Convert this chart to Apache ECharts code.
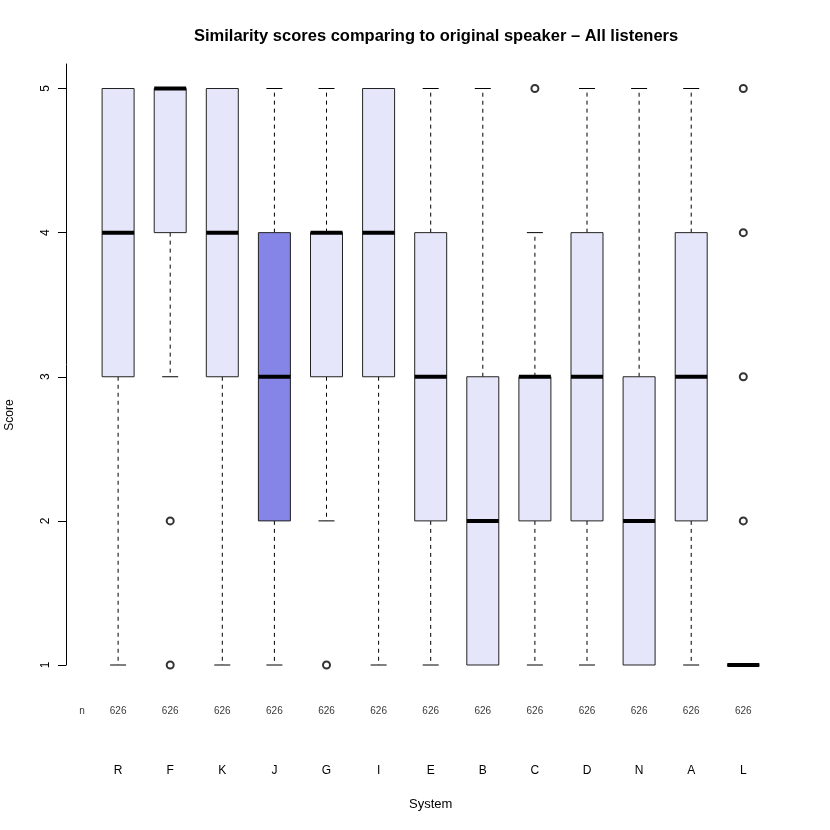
<!DOCTYPE html>
<html>
<head>
<meta charset="utf-8">
<script src="https://cdn.jsdelivr.net/npm/echarts@6/dist/echarts.min.js"></script>
<style>html,body{margin:0;padding:0;background:#fff}#c{width:830px;height:830px}</style>
</head>
<body>
<div id="c"></div>
<script>
const categories = ['R','F','K','J','G','I','E','B','C','D','N','A','L'];
const lowerWhisker = [1,3,1,1,2,1,1,1,1,1,1,1,1];
const q1 = [3,4,3,2,3,3,2,1,2,2,1,2,1];
const medians = [4,5,4,3,4,4,3,2,3,3,2,3,1];
const q3 = [5,5,5,4,4,5,4,3,3,4,3,4,1];
const upperWhisker = [5,5,5,5,5,5,5,5,4,5,5,5,1];
const outliers = [[],[2,1],[],[],[1],[],[],[],[5],[],[],[],[2,3,4,5]];
const counts = [626,626,626,626,626,626,626,626,626,626,626,626,626];
const boxFills = ['#e6e6fa','#e6e6fa','#e6e6fa','#8585e8','#e6e6fa','#e6e6fa','#e6e6fa','#e6e6fa','#e6e6fa','#e6e6fa','#e6e6fa','#e6e6fa','#e6e6fa'];
const yTicks = [1,2,3,4,5];

const boxData = categories.map((c,i)=>[i+1, lowerWhisker[i], q1[i], medians[i], q3[i], upperWhisker[i]]);
const outData = [];
outliers.forEach((arr,i)=>arr.forEach(v=>outData.push([i+1,v])));
const nData = [[0.31, 0.68, 'n']].concat(counts.map((n,i)=>[i+1, 0.68, String(n)]));

const BOXW = 0.614;
const chart = echarts.init(document.getElementById('c'));
chart.setOption({
  animation:false,
  backgroundColor:'#fff',
  title:{text:'Similarity scores comparing to original speaker \u2013 All listeners', left:189, top:23,
    textStyle:{fontFamily:'Liberation Sans, Arial', fontSize:16.5, fontWeight:'bold', color:'#000'}},
  graphic:[
    {type:'text', rotation:Math.PI/2, x:10, y:415, style:{text:'Score', font:'12px Liberation Sans, Arial', fill:'#000', textAlign:'center', textVerticalAlign:'middle'}},
  ],
  grid:{left:66, right:34.6, top:64, bottom:165},
  xAxis:[{type:'value', min:0, max:14, interval:1,
    axisLine:{show:false}, axisTick:{show:false}, splitLine:{show:false},
    axisLabel:{margin:100, fontFamily:'Liberation Sans, Arial', fontSize:12, color:'#000',
      formatter:v=>categories[v-1]||''},
    name:'System', nameLocation:'middle', nameGap:133,
    nameTextStyle:{fontFamily:'Liberation Sans, Arial', fontSize:13, color:'#000'}}],
  yAxis:{type:'value', min:1, max:5.17, interval:1, offset:1,
    axisLine:{show:true, lineStyle:{color:'#000', width:1}},
    axisTick:{show:true, length:8, lineStyle:{color:'#000'}},
    splitLine:{show:false},
    axisLabel:{rotate:90, margin:13, showMaxLabel:false, fontFamily:'Liberation Sans, Arial', fontSize:12, color:'#000',
      formatter:v=>yTicks.indexOf(v)>=0?String(v):''}},
  series:[
    {type:'custom', data:boxData, clip:false,
      renderItem:(params, api)=>{
        const x = api.value(0);
        const lo = api.coord([x, api.value(1)]);
        const b1 = api.coord([x, api.value(2)]);
        const md = api.coord([x, api.value(3)]);
        const b3 = api.coord([x, api.value(4)]);
        const hi = api.coord([x, api.value(5)]);
        const hw = api.size([BOXW,0])[0]/2;
        const cw = hw/2;
        const cx = lo[0];
        const dash = {stroke:'#000', lineWidth:1, lineDash:[4,4]};
        const solid = {stroke:'#000', lineWidth:1};
        const ch = [];
        if (hi[1] < b3[1]) {
          ch.push({type:'line', shape:{x1:cx,y1:b3[1],x2:cx,y2:hi[1]}, style:dash});
          ch.push({type:'line', shape:{x1:cx-cw,y1:hi[1],x2:cx+cw,y2:hi[1]}, style:solid});
        }
        if (lo[1] > b1[1]) {
          ch.push({type:'line', shape:{x1:cx,y1:b1[1],x2:cx,y2:lo[1]}, style:dash});
          ch.push({type:'line', shape:{x1:cx-cw,y1:lo[1],x2:cx+cw,y2:lo[1]}, style:solid});
        }
        ch.push({type:'rect', shape:{x:cx-hw, y:b3[1], width:2*hw, height:b1[1]-b3[1]},
          style:{fill:boxFills[params.dataIndex], stroke:'#222', lineWidth:1}});
        ch.push({type:'line', shape:{x1:cx-hw,y1:md[1],x2:cx+hw,y2:md[1]}, style:{stroke:'#000', lineWidth:4}});
        return {type:'group', children:ch};
      }},
    {type:'scatter', data:outData, symbol:'circle', symbolSize:7,
      itemStyle:{color:'rgba(0,0,0,0)', borderColor:'#000', borderWidth:2}},
    {type:'scatter', data:nData, clip:false, symbolSize:0,
      label:{show:true, position:'inside', formatter:p=>p.value[2], fontFamily:'Liberation Sans, Arial', fontSize:10, color:'#000'}}
  ]
});
</script>
</body>
</html>
